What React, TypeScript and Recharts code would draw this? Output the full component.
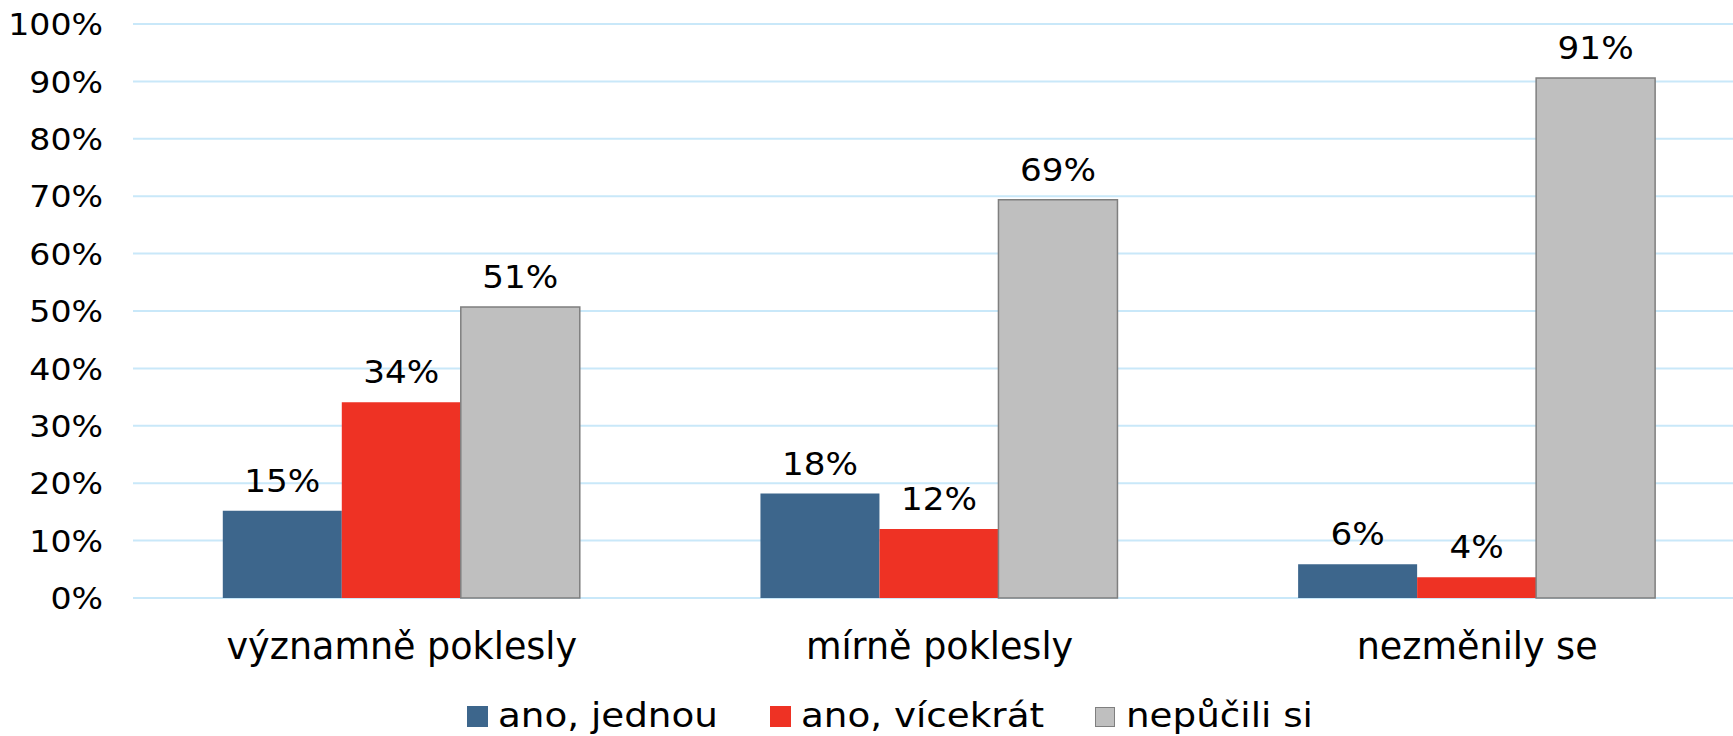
import { BarChart, Bar, XAxis, YAxis, CartesianGrid, LabelList } from "recharts";

const categories = ["významně poklesly", "mírně poklesly", "nezměnily se"];
const anoJednou = [15.2, 18.2, 5.9];
const anoVicekrat = [34.1, 12.0, 3.6];
const nepucili = [50.7, 69.4, 90.6];
const yTicks = [0, 10, 20, 30, 40, 50, 60, 70, 80, 90, 100];

const seriesNames = ["ano, jednou", "ano, vícekrát", "nepůčili si"];
const seriesColors = ["#3D668C", "#EE3224", "#BFBFBF"];

const data = categories.map((name, i) => ({
    name,
    jednou: anoJednou[i],
    vicekrat: anoVicekrat[i],
    nepucili: nepucili[i],
}));

const FONT = "'DejaVu Sans', Verdana, sans-serif";
// the source text is a little wider than DejaVu, so stretch it a bit
const STRETCH = 1.07;

const legendLeft = [467, 770, 1095];

function YTick({ x, y, payload }: any) {
    return (
        <text
            transform={`translate(${x},${y}) scale(${STRETCH},1)`}
            textAnchor="end"
            dy="0.36em"
            fontSize={31}
            fontFamily={FONT}
            fill="#000"
        >
            {`${payload.value}%`}
        </text>
    );
}

function ValueLabel({ x, y, width, value }: any) {
    return (
        <text
            transform={`translate(${x + width / 2},${y - 19}) scale(${STRETCH},1)`}
            textAnchor="middle"
            fontSize={32}
            fontFamily={FONT}
            fill="#000"
        >
            {`${Math.round(Number(value))}%`}
        </text>
    );
}

function Legend() {
    return (
        <>
            {seriesNames.map((n, i) => (
                <div key={n}>
                    <div
                        style={{
                            position: "absolute",
                            left: legendLeft[i],
                            top: i === 2 ? 707 : 706,
                            width: i === 2 ? 18 : 21,
                            height: i === 2 ? 18 : 21,
                            background: seriesColors[i],
                            border: i === 2 ? "1px solid #7F7F7F" : "none",
                        }}
                    />
                    <span
                        style={{
                            position: "absolute",
                            left: legendLeft[i] + 31,
                            top: 699,
                            fontFamily: FONT,
                            fontSize: 34.5,
                            lineHeight: "32px",
                            color: "#000",
                            whiteSpace: "nowrap",
                            transform: "scaleX(1.08)",
                            transformOrigin: "left center",
                        }}
                    >
                        {n}
                    </span>
                </div>
            ))}
        </>
    );
}

export default function App() {
    return (
        <div style={{ position: "relative", width: 1733, height: 736, overflow: "hidden", background: "#fff" }}>
            <style>{"body{margin:0}"}</style>
            <BarChart
                width={1746}
                height={736}
                data={data}
                margin={{ top: 24, right: 0, left: 0, bottom: 0 }}
                barCategoryGap="16.7%"
                barGap={0}
            >
                <CartesianGrid vertical={false} stroke="#C9E8F9" strokeWidth={2} />
                <XAxis
                    dataKey="name"
                    height={138}
                    axisLine={false}
                    tickLine={false}
                    tickSize={0}
                    tickMargin={35}
                    tick={{ fontSize: 36.5, fill: "#000", fontFamily: FONT }}
                    interval={0}
                />
                <YAxis
                    width={133}
                    domain={[0, 100]}
                    ticks={yTicks}
                    axisLine={false}
                    tickLine={false}
                    tickSize={0}
                    tickMargin={30}
                    tick={<YTick />}
                />
                <Bar dataKey="jednou" fill={seriesColors[0]} isAnimationActive={false}>
                    <LabelList dataKey="jednou" content={<ValueLabel />} />
                </Bar>
                <Bar dataKey="vicekrat" fill={seriesColors[1]} isAnimationActive={false}>
                    <LabelList dataKey="vicekrat" content={<ValueLabel />} />
                </Bar>
                <Bar dataKey="nepucili" fill={seriesColors[2]} stroke="#7F7F7F" strokeWidth={1.5} isAnimationActive={false}>
                    <LabelList dataKey="nepucili" content={<ValueLabel />} />
                </Bar>
            </BarChart>
            <Legend />
        </div>
    );
}
